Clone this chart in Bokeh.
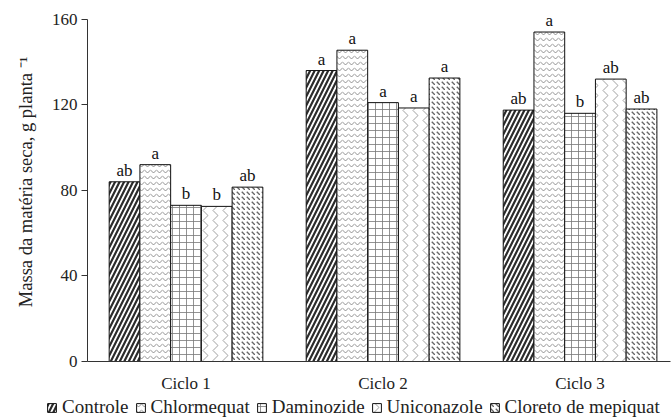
from bokeh.plotting import figure
from bokeh.models import ColumnDataSource, FixedTicker, Legend, LegendItem, LabelSet
from bokeh.embed import file_html
from bokeh.resources import INLINE

cycles = ["Ciclo 1", "Ciclo 2", "Ciclo 3"]
treatments = ["Controle", "Chlormequat", "Daminozide", "Uniconazole", "Cloreto de mepiquat"]
controle = [84.0, 136.0, 117.5]
chlormequat = [92.0, 145.5, 154.0]
daminozide = [73.0, 121.0, 116.0]
uniconazole = [72.5, 118.5, 132.0]
cloreto = [81.5, 132.5, 118.0]
letters_controle = ["ab", "a", "ab"]
letters_chlormequat = ["a", "a", "a"]
letters_daminozide = ["b", "a", "b"]
letters_uniconazole = ["b", "a", "ab"]
letters_cloreto = ["ab", "a", "ab"]
y_ticks = [0, 40, 80, 120, 160]

series = [controle, chlormequat, daminozide, uniconazole, cloreto]
letters = [letters_controle, letters_chlormequat, letters_daminozide,
           letters_uniconazole, letters_cloreto]
styles = [
    dict(hatch_pattern="/", hatch_color="#2b2b2b", hatch_weight=2.2, hatch_scale=9),
    dict(hatch_pattern="v", hatch_color="#777777", hatch_weight=0.8, hatch_scale=6),
    dict(hatch_pattern="+", hatch_color="#777777", hatch_weight=0.8, hatch_scale=7),
    dict(hatch_pattern=">", hatch_color="#888888", hatch_weight=0.8, hatch_scale=10),
    dict(hatch_pattern="`", hatch_color="#666666", hatch_weight=1.4, hatch_scale=5),
]

FONT = "Liberation Serif"
bar_w = 0.156

p = figure(width=671, height=395, x_range=(-0.5, 2.459), y_range=(0, 167.8),
           output_backend="svg", toolbar_location=None,
           min_border_left=87, min_border_right=1, min_border_top=2,
           min_border_bottom=28)
p.outline_line_color = None
p.xgrid.visible = False
p.ygrid.visible = False

for i, (vals, labs, st) in enumerate(zip(series, letters, styles)):
    off = (i - 2) * bar_w
    xs = [k + off for k in range(len(cycles))]
    src = ColumnDataSource(dict(x=xs, top=vals, lab=labs))
    p.vbar(x="x", top="top", width=bar_w, source=src, fill_color="white",
           line_color="#111111", line_width=1, **st)
    p.add_layout(LabelSet(x="x", y="top", text="lab", source=src, y_offset=2,
                          text_align="center", text_baseline="bottom",
                          text_font=FONT, text_font_size="17px",
                          text_color="#111111"))

p.xaxis.ticker = FixedTicker(ticks=list(range(len(cycles))))
p.xaxis.major_label_overrides = {k: c for k, c in enumerate(cycles)}
p.xaxis.minor_tick_line_color = None
p.xaxis.major_label_standoff = 6
p.yaxis.ticker = FixedTicker(ticks=y_ticks)
p.yaxis.bounds = (0, 160)
p.yaxis.minor_tick_line_color = None
p.yaxis.major_tick_in = 0
p.yaxis.major_tick_out = 6
p.yaxis.major_label_standoff = 4
p.yaxis.axis_label = "Massa da matéria seca, g planta ⁻¹"
p.yaxis.axis_label_standoff = 13
for ax in (p.xaxis, p.yaxis):
    ax.axis_line_color = "#333333"
    ax.major_label_text_font = FONT
    ax.major_label_text_font_size = "17px"
    ax.major_label_text_color = "#222222"
    ax.axis_label_text_font = FONT
    ax.axis_label_text_font_size = "18.5px"
    ax.axis_label_text_font_style = "normal"
    ax.axis_label_text_color = "#222222"
p.yaxis.major_tick_line_color = "#333333"
p.xaxis.major_tick_line_color = None

# legend in a thin strip below the chart (separate root, so frames are not aligned)
lg = figure(width=671, height=23, x_range=(0, 1), y_range=(0, 1),
            output_backend="svg", toolbar_location=None,
            x_axis_location=None, y_axis_location=None,
            min_border_left=0, min_border_right=0, min_border_top=0,
            min_border_bottom=0)
lg.outline_line_color = None
lg.xgrid.visible = False
lg.ygrid.visible = False
items = []
for i, st in enumerate(styles):
    # one off-screen bar per series, only so that the legend has a glyph to draw
    r = lg.vbar(x=[5.0], top=[1.0], width=0.1, fill_color="white",
                line_color="#111111", line_width=1, **st)
    items.append(LegendItem(label=treatments[i], renderers=[r]))
legend = Legend(items=items, orientation="horizontal", location=(46, 0),
                label_text_font=FONT, label_text_font_size="19px",
                label_text_color="#222222", glyph_width=11, glyph_height=11,
                spacing=6, label_standoff=5, padding=0, margin=0,
                border_line_alpha=0, background_fill_alpha=0)
lg.add_layout(legend)

open("out.html", "w").write(file_html([p, lg], INLINE))
